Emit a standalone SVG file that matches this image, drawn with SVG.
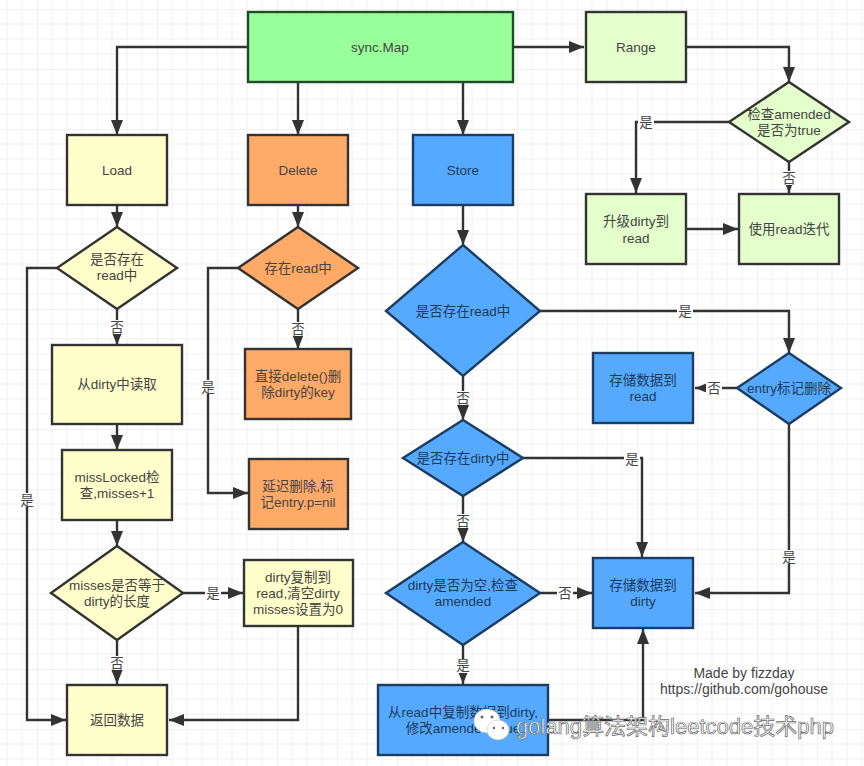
<svg xmlns="http://www.w3.org/2000/svg" width="864" height="766" viewBox="0 0 864 766">
<defs>
<pattern id="g" width="60" height="60" patternUnits="userSpaceOnUse" x="37" y="9">
<path d="M15 0V60M30 0V60M45 0V60M0 15H60M0 30H60M0 45H60" stroke="#f1f1f1" stroke-width="1" fill="none"/>
<path d="M0 0V60M0 0H60" stroke="#e3e3e3" stroke-width="1" fill="none"/>
</pattern>
<marker id="a" markerUnits="userSpaceOnUse" markerWidth="16" markerHeight="12" refX="15" refY="6" orient="auto"><path d="M0 0L15 6L0 12Z" fill="#333"/></marker>
</defs>
<style>
.n{stroke:#333;stroke-width:2.4}
.y{fill:#ffffcc}.o{fill:#ffaa66}.b{fill:#55aaff;stroke:#1c3d5f}.g{fill:#e4ffcc}.m{fill:#99ff99;stroke:#1e4d2b}
text{font-family:"Liberation Sans","Noto Sans CJK SC",sans-serif;font-size:13.5px;fill:#444;text-anchor:middle}
.bt{fill:#1c3a55}
.c{fill:none;stroke:#333;stroke-width:2.4;marker-end:url(#a)}
.lb{fill:#fff}
.sig{font-size:14px}
.w{font-size:22px;fill:#fff;stroke:#666;stroke-width:.7;text-anchor:start}
.wc{fill:#fff;stroke:#bbb;stroke-width:.5}
.we{fill:#666}
</style>
<rect width="864" height="766" fill="#fff"/>
<rect width="864" height="766" fill="url(#g)"/>
<g id="connectors">
<path class="c" d="M248 47H117V135"/>
<path class="c" d="M298 82V135"/>
<path class="c" d="M463 82V135"/>
<path class="c" d="M513 47H584"/>
<path class="c" d="M686 47H789V82"/>
<path class="c" d="M729 122H636V193"/>
<path class="c" d="M789 162V193"/>
<path class="c" d="M687 229H738"/>
<path class="c" d="M117 206V227"/>
<path class="c" d="M117 309V345"/>
<path class="c" d="M117 424V450"/>
<path class="c" d="M117 521V546"/>
<path class="c" d="M183 593H243"/>
<path class="c" d="M117 640V684"/>
<path class="c" d="M57 268H27V720H66"/>
<path class="c" d="M298 626V720H169"/>
<path class="c" d="M298 206V227"/>
<path class="c" d="M298 309V349"/>
<path class="c" d="M238 268H208V493H248"/>
<path class="c" d="M463 206V245"/>
<path class="c" d="M463 376V420"/>
<path class="c" d="M463 496V542"/>
<path class="c" d="M463 645V684"/>
<path class="c" d="M540 311H789V353"/>
<path class="c" d="M523 458H642V557"/>
<path class="c" d="M540 593H592"/>
<path class="c" d="M737 388H695"/>
<path class="c" d="M789 424V593H695"/>
<path class="c" d="M548 720H643V629"/>
</g>
<g id="edge-labels">
<rect class="lb" x="638" y="115" width="16" height="14"/><text x="646" y="127">是</text>
<rect class="lb" x="781" y="171" width="16" height="14"/><text x="789" y="183">否</text>
<rect class="lb" x="109" y="320" width="16" height="14"/><text x="117" y="332">否</text>
<rect class="lb" x="19" y="493" width="16" height="14"/><text x="27" y="505">是</text>
<rect class="lb" x="205" y="586" width="16" height="14"/><text x="213" y="598">是</text>
<rect class="lb" x="109" y="656" width="16" height="14"/><text x="117" y="668">否</text>
<rect class="lb" x="290" y="322" width="16" height="14"/><text x="298" y="334">否</text>
<rect class="lb" x="200" y="380" width="16" height="14"/><text x="208" y="392">是</text>
<rect class="lb" x="455" y="391" width="16" height="14"/><text x="463" y="403">否</text>
<rect class="lb" x="455" y="514" width="16" height="14"/><text x="463" y="526">否</text>
<rect class="lb" x="455" y="659" width="16" height="14"/><text x="463" y="670">是</text>
<rect class="lb" x="677" y="304" width="16" height="14"/><text x="685" y="316">是</text>
<rect class="lb" x="624" y="452" width="16" height="14"/><text x="632" y="464">是</text>
<rect class="lb" x="557" y="586" width="16" height="14"/><text x="565" y="598">否</text>
<rect class="lb" x="706" y="381" width="16" height="14"/><text x="714" y="393">否</text>
<rect class="lb" x="781" y="550" width="16" height="14"/><text x="789" y="562">是</text>
</g>
<g id="syncmap"><rect class="n m" x="248" y="12" width="265" height="70"/><text x="380" y="52">sync.Map</text></g>
<g id="range"><rect class="n g" x="586" y="12" width="100" height="70"/><text x="636" y="52">Range</text></g>
<g id="check-amended"><path class="n g" d="M789 82L849 122L789 162L729 122Z"/><text x="789" y="119">检查amended</text><text x="789" y="135">是否为true</text></g>
<g id="upgrade"><rect class="n g" x="586" y="194" width="100" height="70"/><text x="636" y="226">升级dirty到</text><text x="636" y="243">read</text></g>
<g id="iterate"><rect class="n g" x="739" y="194" width="100" height="70"/><text x="789" y="234">使用read迭代</text></g>
<g id="load"><rect class="n y" x="67" y="135" width="100" height="70"/><text x="117" y="175">Load</text></g>
<g id="in-read-load"><path class="n y" d="M117 227L177 268L117 309L57 268Z"/><text x="117" y="264">是否存在</text><text x="117" y="280">read中</text></g>
<g id="from-dirty"><rect class="n y" x="52" y="345" width="130" height="79"/><text x="117" y="389">从dirty中读取</text></g>
<g id="misslocked"><rect class="n y" x="62" y="450" width="110" height="70"/><text x="117" y="482">missLocked检</text><text x="117" y="498">查,misses+1</text></g>
<g id="misses-eq"><path class="n y" d="M117 546L183 593L117 640L51 593Z"/><text x="117" y="590">misses是否等于</text><text x="117" y="606">dirty的长度</text></g>
<g id="copy-dirty"><rect class="n y" x="244" y="560" width="109" height="66"/><text x="298" y="582">dirty复制到</text><text x="298" y="598">read,清空dirty</text><text x="298" y="614">misses设置为0</text></g>
<g id="return"><rect class="n y" x="67" y="685" width="100" height="70"/><text x="117" y="725">返回数据</text></g>
<g id="delete"><rect class="n o" x="248" y="135" width="100" height="70"/><text x="298" y="175">Delete</text></g>
<g id="in-read-del"><path class="n o" d="M298 227L358 268L298 309L238 268Z"/><text x="298" y="273">存在read中</text></g>
<g id="direct-del"><rect class="n o" x="245" y="349" width="106" height="70"/><text x="298" y="381">直接delete()删</text><text x="298" y="397">除dirty的key</text></g>
<g id="delay-del"><rect class="n o" x="249" y="459" width="99" height="70"/><text x="298" y="491">延迟删除,标</text><text x="298" y="507">记entry.p=nil</text></g>
<g id="store"><rect class="n b" x="413" y="135" width="100" height="70"/><text class="bt" x="463" y="175">Store</text></g>
<g id="in-read-store"><path class="n b" d="M463 245L540 311L463 376L386 311Z"/><text class="bt" x="463" y="316">是否存在read中</text></g>
<g id="in-dirty"><path class="n b" d="M463 420L523 458L463 496L403 458Z"/><text class="bt" x="463" y="463">是否存在dirty中</text></g>
<g id="dirty-empty"><path class="n b" d="M463 542L540 593L463 645L386 593Z"/><text class="bt" x="463" y="590">dirty是否为空,检查</text><text class="bt" x="463" y="606">amended</text></g>
<g id="copy-read"><rect class="n b" x="378" y="685" width="170" height="70"/><text class="bt" x="463" y="717">从read中复制数据到dirty,</text><text class="bt" x="463" y="733">修改amended=true</text></g>
<g id="store-dirty"><rect class="n b" x="593" y="558" width="100" height="70"/><text class="bt" x="643" y="590">存储数据到</text><text class="bt" x="643" y="606">dirty</text></g>
<g id="store-read"><rect class="n b" x="593" y="353" width="100" height="70"/><text class="bt" x="643" y="385">存储数据到</text><text class="bt" x="643" y="401">read</text></g>
<g id="entry-del"><path class="n b" d="M789 353L841 388L789 424L737 388Z"/><text class="bt" x="789" y="393">entry标记删除</text></g>
<text class="sig" x="744" y="678">Made by fizzday</text>
<text class="sig" x="744" y="694">https://github.com/gohouse</text>
<g id="watermark">
<ellipse class="wc" cx="487" cy="721" rx="13" ry="12"/>
<circle class="we" cx="482" cy="717" r="1.5"/><circle class="we" cx="492" cy="717" r="1.5"/>
<ellipse class="wc" cx="498" cy="730" rx="11" ry="10"/>
<circle class="we" cx="494" cy="728" r="1.2"/><circle class="we" cx="503" cy="728" r="1.2"/>
<text class="w" x="516" y="734">golang算法架构leetcode技术php</text>
</g>
</svg>
